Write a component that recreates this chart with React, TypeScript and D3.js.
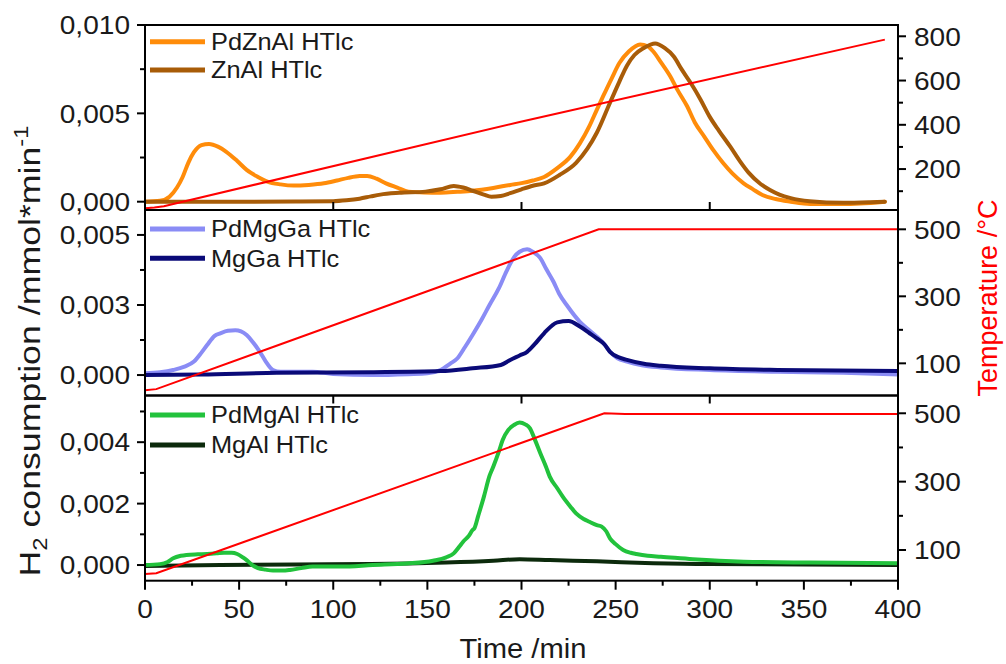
import React from 'react';
import * as d3 from 'd3';

type Pt = [number, number];

// ---- Time axis ----
const timeTicks = [0, 50, 100, 150, 200, 250, 300, 350, 400];
const timeMinor = [25, 75, 125, 175, 225, 275, 325, 375];
const panelTimeTicks = [100, 200, 300];

// ---- Panel 1: Zn-Al samples (time min, H2 consumption mmol/min) ----
const pdZnAl: Pt[] = [
  [0, 0], [8, 0.00005], [13, 0.00028], [17, 0.0008], [20, 0.0014], [23, 0.0022], [26, 0.0028],
  [30, 0.0032], [34, 0.00327], [39, 0.0031], [43, 0.00284], [49, 0.0023], [54, 0.0018], [60, 0.0014],
  [65, 0.00114], [72, 0.00098], [79, 0.00091], [87, 0.00095], [95, 0.00104], [102, 0.0012],
  [108, 0.00135], [114, 0.00145], [118, 0.00146], [123, 0.0013], [128, 0.00104], [134, 0.0008],
  [140, 0.00057], [148, 0.00052], [157, 0.00051], [166, 0.00056], [174, 0.00062], [185, 0.00078],
  [194, 0.00095], [200, 0.00105], [206, 0.0012], [212, 0.0014], [219, 0.0019], [226, 0.00255],
  [231, 0.0033], [236, 0.00426], [240, 0.0052], [243.5, 0.006], [248, 0.007], [252, 0.00785],
  [257, 0.0085], [263, 0.0089], [267, 0.0088], [270, 0.0085], [274, 0.0079], [279, 0.0071],
  [283, 0.0063], [288, 0.0054], [292, 0.0045], [297, 0.0037], [302, 0.0029], [307, 0.0022],
  [312, 0.0016], [318, 0.00104], [323, 0.0007], [328, 0.00038], [335, 0.00015], [343, 0],
  [350, -0.0001], [357, -0.00013], [371, -0.00013], [380, -0.0001], [393, 0],
];
const znAl: Pt[] = [
  [0, 0], [20, 0], [48, 0], [80, 0.00001], [100, 0.00003], [107, 0.00008], [114, 0.00017],
  [120, 0.0003], [125, 0.0004], [135, 0.0005], [149, 0.00057], [157, 0.0007], [164, 0.00089],
  [169, 0.0008], [174, 0.00062], [180, 0.0004], [184, 0.00028], [189, 0.00032], [194, 0.00048],
  [200, 0.0007], [206, 0.0009], [212, 0.00104], [220, 0.0015], [229, 0.0022], [235, 0.003],
  [240, 0.0039], [247, 0.0056], [252, 0.0068], [256, 0.0077], [260, 0.0083], [265, 0.0087],
  [271, 0.00895], [276, 0.0087], [281, 0.0082], [285, 0.0075], [290, 0.0067], [295, 0.0058],
  [300, 0.0048], [305, 0.004], [311, 0.0031], [316, 0.0023], [321, 0.0016], [327, 0.001],
  [332, 0.00066], [337, 0.0004], [343, 0.0002], [353, 0.00003], [371, -0.00006], [385, -0.00003],
  [393, 0],
];
const tempZn: Pt[] = [[0, 23], [5, 26], [10, 32], [199, 413], [393, 785]];

// ---- Panel 2: Mg-Ga samples ----
const pdMgGa: Pt[] = [
  [0, 0.00006], [8, 0.0001], [15, 0.00018], [21, 0.0003], [26, 0.00048], [30, 0.0008], [33, 0.00107],
  [37, 0.0014], [40, 0.00149], [44, 0.00158], [48, 0.0016], [51, 0.00156], [54, 0.00143],
  [57, 0.0012], [61, 0.00083], [64, 0.0005], [68, 0.00018], [72, 0.00012], [77, 0.00012],
  [89, 0.00012], [100, 0.00004], [121, 0], [140, 0.00003], [150, 0.00006], [157, 0.00018],
  [162, 0.0004], [166, 0.0006], [170, 0.001], [174, 0.00143], [179, 0.002], [183, 0.0025],
  [188, 0.0031], [192, 0.0037], [196, 0.0042], [199, 0.0044], [203, 0.00449], [206, 0.0044],
  [210, 0.00417], [213, 0.0038], [217, 0.00333], [220, 0.0029], [224, 0.0025], [231, 0.0019],
  [236, 0.0016], [240, 0.00137], [244, 0.0011], [247, 0.00083], [251, 0.0006], [256, 0.00048],
  [264, 0.00035], [274, 0.00027], [300, 0.00018], [336, 0.00012], [371, 0.00008], [400, 0.00002],
];
const mgGa: Pt[] = [
  [0, 0], [30, 0.00002], [70, 0.00008], [120, 0.0001], [157, 0.00014], [174, 0.00024],
  [189, 0.00036], [194, 0.00054], [199, 0.0007], [203, 0.00083], [207, 0.0011], [212, 0.00149],
  [219, 0.00188], [225, 0.00193], [231, 0.00173], [236, 0.0015], [240, 0.00131], [244, 0.0011],
  [247, 0.00083], [251, 0.00065], [256, 0.00054], [265, 0.0004], [274, 0.00033], [300, 0.00024],
  [336, 0.00018], [400, 0.00014],
];
const tempMgGa: Pt[] = [[0, 20], [6, 23], [241, 500], [400, 500]];

// ---- Panel 3: Mg-Al samples ----
const pdMgAl: Pt[] = [
  [0, 0], [8, 0.00003], [12, 0.0001], [15, 0.00022], [19, 0.0003], [22, 0.00033], [28, 0.00035],
  [33, 0.00036], [38, 0.00038], [42, 0.0004], [46, 0.0004], [49, 0.00036], [52, 0.00025],
  [54, 0.00016], [57, 0], [60, -0.0001], [64, -0.00015], [68, -0.00018], [73, -0.00018],
  [77, -0.00016], [83, -0.0001], [89, -0.00005], [104, -0.00005], [121, 0], [139, 0.00005],
  [153, 0.00014], [160, 0.00025], [164, 0.00038], [167, 0.0006], [169, 0.00076], [172, 0.00095],
  [174, 0.00114], [175, 0.0012], [177, 0.0016], [180, 0.00222], [183, 0.0029], [185, 0.0032],
  [188, 0.0037], [190, 0.00407], [193, 0.0044], [196, 0.00456], [199, 0.00464], [202, 0.00458],
  [204.5, 0.00445], [207, 0.0041], [210, 0.00364], [213, 0.0032], [215, 0.00288], [219, 0.0025],
  [222, 0.00222], [226, 0.0019], [229, 0.00168], [233, 0.0015], [236, 0.00141], [240, 0.0013],
  [242.6, 0.00125], [245, 0.0011], [247, 0.00087], [250, 0.00068], [254, 0.00049], [258, 0.0004],
  [261, 0.00036], [267, 0.0003], [274, 0.00027], [291, 0.00019], [318, 0.00011], [353, 0.00008],
  [400, 0.00006],
];
const mgAl: Pt[] = [
  [0, -0.00003], [40, 0], [80, 0.00002], [120, 0.00003], [160, 0.00008], [185, 0.00014],
  [199, 0.00019], [215, 0.00016], [240, 0.00012], [270, 0.00006], [300, 0.00003], [350, 0.00002],
  [400, 0],
];
const tempMgAl: Pt[] = [[0, 30], [6, 32], [244, 500], [255, 498], [400, 498]];

// ---- Axis ticks ----
const zn_yTicks = [0, 0.005, 0.01];
const zn_yLabels = ['0,000', '0,005', '0,010'];
const zn_yMinor = [0.0025, 0.0075];
const zn_tTicks = [200, 400, 600, 800];
const zn_tMinor = [100, 300, 500, 700];

const ga_yTicks = [0, 0.0025, 0.005];
const ga_yLabels = ['0,000', '0,003', '0,005'];
const ga_yMinor = [0.00125, 0.00375];
const ga_tTicks = [100, 300, 500];
const ga_tMinor = [200, 400];

const al_yTicks = [0, 0.002, 0.004];
const al_yLabels = ['0,000', '0,002', '0,004'];
const al_yMinor = [0.001, 0.003, 0.005];
const al_tTicks = [100, 300, 500];
const al_tMinor = [200, 400];

const FONT = "'Liberation Sans', Arial, Helvetica, sans-serif";
const TEXT = '#1a1a1a';
const WIDE = 1.08; // slightly wide lettering
const X0 = 145;
const X1 = 898;

interface Series { name: string; data: Pt[]; color: string; }
interface Panel {
  id: string;
  top: number; bottom: number;
  yDomain: [number, number];
  yTicks: number[]; yLabels: string[]; yMinor: number[];
  tDomain: [number, number];
  tTicks: number[]; tMinor: number[];
  series: Series[];
  temp: Pt[];
  legendRows: number[];
  bottomTicks: 'up' | 'down' | 'axis';
}

const panels: Panel[] = [
  {
    id: 'zn', top: 25, bottom: 210,
    yDomain: [-0.00047, 0.01], yTicks: zn_yTicks, yLabels: zn_yLabels, yMinor: zn_yMinor,
    tDomain: [15, 851], tTicks: zn_tTicks, tMinor: zn_tMinor,
    series: [
      { name: 'PdZnAl HTlc', data: pdZnAl, color: '#ff8c0a' },
      { name: 'ZnAl HTlc', data: znAl, color: '#a85c08' },
    ],
    temp: tempZn, legendRows: [41.7, 70], bottomTicks: 'up',
  },
  {
    id: 'ga', top: 210, bottom: 395.5,
    yDomain: [-0.00073, 0.00589], yTicks: ga_yTicks, yLabels: ga_yLabels, yMinor: ga_yMinor,
    tDomain: [4, 557.6], tTicks: ga_tTicks, tMinor: ga_tMinor,
    series: [
      { name: 'PdMgGa HTlc', data: pdMgGa, color: '#8a8cf5' },
      { name: 'MgGa HTlc', data: mgGa, color: '#0a0a78' },
    ],
    temp: tempMgGa, legendRows: [229, 258.3], bottomTicks: 'down',
  },
  {
    id: 'al', top: 395.5, bottom: 580.7,
    yDomain: [-0.00051, 0.00552], yTicks: al_yTicks, yLabels: al_yLabels, yMinor: al_yMinor,
    tDomain: [10.2, 552], tTicks: al_tTicks, tMinor: al_tMinor,
    series: [
      { name: 'PdMgAl HTlc', data: pdMgAl, color: '#22c23c' },
      { name: 'MgAl HTlc', data: mgAl, color: '#0c2a0c' },
    ],
    temp: tempMgAl, legendRows: [415, 445], bottomTicks: 'axis',
  },
];

const x = d3.scaleLinear().domain([0, 400]).range([X0, X1]);

function Label(props: { x: number; y: number; size: number; anchor?: string; fill?: string; children: React.ReactNode }) {
  return (
    <text transform={`translate(${props.x},${props.y}) scale(${WIDE},1)`} textAnchor={props.anchor || 'start'}
      fontSize={props.size} fontFamily={FONT} fill={props.fill || TEXT}>
      {props.children}
    </text>
  );
}

function PanelView({ p }: { p: Panel }) {
  const y = d3.scaleLinear().domain(p.yDomain).range([p.bottom, p.top]);
  const yt = d3.scaleLinear().domain(p.tDomain).range([p.bottom, p.top]);
  const line = d3.line<Pt>().x(d => x(d[0])).y(d => y(d[1])).curve(d3.curveMonotoneX);
  const tline = d3.line<Pt>().x(d => x(d[0])).y(d => yt(d[1]));
  const clipId = `clip-${p.id}`;
  const drawOrder = p.id === 'al' ? [1, 0] : [0, 1];
  return (
    <g>
      <defs>
        <clipPath id={clipId}>
          <rect x={X0} y={p.top} width={X1 - X0} height={p.bottom - p.top} />
        </clipPath>
      </defs>
      <g clipPath={`url(#${clipId})`}>
        {drawOrder.map(i => (
          <path key={i} d={line(p.series[i].data) || ''} fill="none" stroke={p.series[i].color}
            strokeWidth={4} strokeLinejoin="round" strokeLinecap="round" />
        ))}
        <path d={tline(p.temp) || ''} fill="none" stroke="#ff0000" strokeWidth={2} />
      </g>
      {/* legend */}
      {p.series.map((s, i) => (
        <g key={s.name}>
          <line x1={150} x2={205} y1={p.legendRows[i]} y2={p.legendRows[i]} stroke={s.color} strokeWidth={5} />
          <Label x={211} y={p.legendRows[i] + 8.3} size={23.5}>{s.name}</Label>
        </g>
      ))}
      {/* left axis ticks */}
      {p.yTicks.map((v, i) => (
        <g key={`yl${i}`}>
          <line x1={X0 - 8} x2={X0} y1={y(v)} y2={y(v)} stroke="#000" strokeWidth={2} />
          <Label x={130} y={y(v) + 9.3} size={26} anchor="end">{p.yLabels[i]}</Label>
        </g>
      ))}
      {p.yMinor.map((v, i) => (
        <line key={`ym${i}`} x1={X0 - 5} x2={X0} y1={y(v)} y2={y(v)} stroke="#000" strokeWidth={2} />
      ))}
      {/* right axis ticks */}
      {p.tTicks.map((v, i) => (
        <g key={`tr${i}`}>
          <line x1={X1} x2={X1 + 8} y1={yt(v)} y2={yt(v)} stroke="#000" strokeWidth={2} />
          <Label x={914} y={yt(v) + 9.3} size={26}>{v}</Label>
        </g>
      ))}
      {p.tMinor.map((v, i) => (
        <line key={`tm${i}`} x1={X1} x2={X1 + 5} y1={yt(v)} y2={yt(v)} stroke="#000" strokeWidth={2} />
      ))}
      {/* time ticks between panels */}
      {p.bottomTicks !== 'axis' && panelTimeTicks.map(v => (
        <line key={`pt${v}`} x1={x(v)} x2={x(v)}
          y1={p.bottom} y2={p.bottomTicks === 'up' ? p.bottom - 8 : p.bottom + 8}
          stroke="#000" strokeWidth={2} />
      ))}
      <rect x={X0} y={p.top} width={X1 - X0} height={p.bottom - p.top} fill="none" stroke="#000" strokeWidth={2} />
    </g>
  );
}

export default function App() {
  const axisY = panels[2].bottom;
  return (
    <svg width={1006} height={664} viewBox="0 0 1006 664"
      style={{ position: 'absolute', left: 0, top: 0, background: '#fff' }}>
      <rect width={1006} height={664} fill="#fff" />
      {panels.map(p => <PanelView key={p.id} p={p} />)}
      {/* time axis */}
      {timeTicks.map(v => (
        <g key={`x${v}`}>
          <line x1={x(v)} x2={x(v)} y1={axisY} y2={axisY + 9} stroke="#000" strokeWidth={2} />
          <Label x={x(v)} y={618} size={26} anchor="middle">{v}</Label>
        </g>
      ))}
      {timeMinor.map(v => (
        <line key={`xm${v}`} x1={x(v)} x2={x(v)} y1={axisY} y2={axisY + 5} stroke="#000" strokeWidth={2} />
      ))}
      <Label x={523} y={658} size={27} anchor="middle">Time /min</Label>
      {/* left title */}
      <text transform="translate(40,351) rotate(-90) scale(1.19,1)" textAnchor="middle" fontSize={30}
        fontFamily={FONT} fill={TEXT}>
        H<tspan fontSize={20} dy={7}>2</tspan><tspan dy={-7}> consumption /mmol*min</tspan><tspan fontSize={20} dy={-12}>-1</tspan>
      </text>
      {/* right title */}
      <text transform="translate(997,298) rotate(-90)" textAnchor="middle" fontSize={27} fontFamily={FONT} fill="#ff0000">
        Temperature /°C
      </text>
    </svg>
  );
}
